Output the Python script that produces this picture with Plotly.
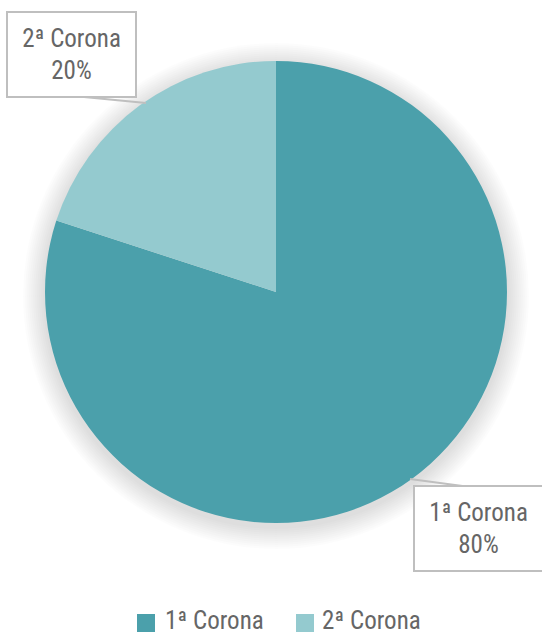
import plotly.graph_objects as go

# Data
labels = ["1ª Corona", "2ª Corona"]
values = [80, 20]
colors = ["#4BA0AB", "#94CACF"]

W, H = 542, 637
FONT = dict(family="Liberation Sans Narrow, Roboto Condensed, sans-serif",
            size=25, color="#666666")


def px(x):
    return x / W


def py(y):
    return 1 - y / H


fig = go.Figure(
    go.Pie(
        labels=labels,
        values=values,
        sort=False,
        direction="clockwise",
        rotation=0,
        marker=dict(colors=colors, line=dict(width=0)),
        textinfo="none",
        hoverinfo="label+percent",
        domain=dict(x=[px(45), px(507)], y=[py(523), py(61)]),
        showlegend=False,
    )
)

# soft, diffuse shadow under the pie
shapes = []
cx, cy, r = 276, 293, 231
for grow in range(22, 0, -2):
    shapes.append(dict(
        type="circle", xref="paper", yref="paper", layer="below",
        x0=px(cx - r - grow), x1=px(cx + r + grow),
        y0=py(cy + r + grow + 3), y1=py(cy - r - grow + 3),
        fillcolor="rgba(0,0,0,0.012)", line=dict(width=0),
    ))

# leader lines from label boxes to slice edges
leaders = [((84, 97), (146, 103)), ((410, 479), (470, 487))]
for (x0, y0), (x1, y1) in leaders:
    shapes.append(dict(
        type="line", xref="paper", yref="paper",
        x0=px(x0), y0=py(y0), x1=px(x1), y1=py(y1),
        line=dict(color="#BFBFBF", width=2),
    ))

total = sum(values)
label_pos = {"2ª Corona": (71.5, 54.5), "1ª Corona": (478, 528.5)}
annotations = []
for lab, val in zip(labels, values):
    x, y = label_pos[lab]
    annotations.append(dict(
        text=f"{lab}<br>{round(val / total * 100)}%",
        xref="paper", yref="paper", x=px(x), y=py(y),
        xanchor="center", yanchor="middle", showarrow=False,
        font=FONT,
        bgcolor="white", bordercolor="#BFBFBF", borderwidth=2,
        width=125, height=81, align="center",
    ))

# legend: colour squares with the series labels
legend_x = [(137, 163), (296, 320)]
for (sx, tx), lab, col in zip(legend_x, labels, colors):
    shapes.append(dict(
        type="rect", xref="paper", yref="paper",
        x0=px(sx), x1=px(sx + 18), y0=py(632), y1=py(614),
        fillcolor=col, line=dict(width=0),
    ))
    annotations.append(dict(
        text=lab, xref="paper", yref="paper", x=px(tx), y=py(620),
        xanchor="left", yanchor="middle", showarrow=False, font=FONT,
    ))

fig.update_layout(
    width=W, height=H,
    margin=dict(l=0, r=0, t=0, b=0),
    paper_bgcolor="white", plot_bgcolor="white",
    shapes=shapes,
    annotations=annotations,
    showlegend=False,
)

fig.write_html("out.html")
